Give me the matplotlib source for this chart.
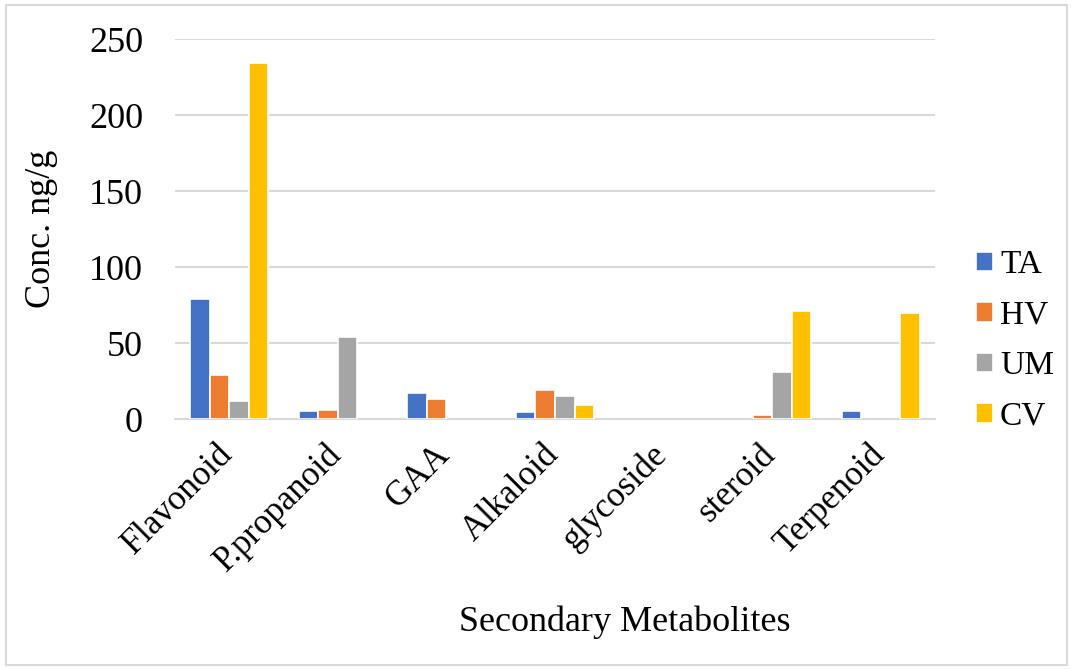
import matplotlib
matplotlib.use("Agg")
import matplotlib.pyplot as plt
import matplotlib.transforms as mtransforms
import numpy as np
from matplotlib.patches import Rectangle

categories = ["Flavonoid", "P.propanoid", "GAA", "Alkaloid", "glycoside", "steroid", "Terpenoid"]
series = ["TA", "HV", "UM", "CV"]
ta = [79, 5, 17, 4.5, 0, 0, 5]
hv = [29, 6, 13, 19, 0, 2.5, 0]
um = [12, 54, 0, 15, 0, 31, 0]
cv = [234, 0, 0, 9, 0, 71, 70]
colors = ["#4472c4", "#ed7d31", "#a5a5a5", "#ffc000"]

plt.rcParams["font.family"] = ["Liberation Serif", "DejaVu Serif"]

W, H = 1071, 669
fig = plt.figure(figsize=(W / 100, H / 100), dpi=100)
ax = fig.add_axes([175 / W, 1 - 419 / H, 760 / W, 380 / H])

x = np.arange(len(categories))
slot = 0.18
for i, (name, vals) in enumerate(zip(series, [ta, hv, um, cv])):
    lw = [1.2 if v else 0 for v in vals]
    ax.bar(x + (i - 1.5) * slot, vals, width=slot, color=colors[i],
           edgecolor="white", linewidth=lw, label=name, zorder=3)

ax.set_xlim(-0.5, len(categories) - 0.5)
ax.set_ylim(0, 250)
ax.set_yticks(range(0, 251, 50))
ax.grid(axis="y", color="#d9d9d9", linewidth=1.5, zorder=0)
for s in ("top", "right", "left"):
    ax.spines[s].set_visible(False)
ax.spines["bottom"].set_color("#d9d9d9")
ax.spines["bottom"].set_linewidth(1.5)
ax.tick_params(length=0, labelsize=26)
ax.tick_params(axis="y", pad=23)
ax.tick_params(axis="x", pad=10, labelsize=25)
ax.set_xticks(x)
ax.set_xticklabels(categories, rotation=45, ha="right", rotation_mode="anchor")
# nudge the slanted category names so they end just right of each group
shift = mtransforms.ScaledTranslation(-0.13, -0.05, fig.dpi_scale_trans)
for lbl in ax.get_xticklabels():
    lbl.set_transform(lbl.get_transform() + shift)

ax.set_ylabel("Conc. ng/g", fontsize=26)
ax.yaxis.set_label_coords((58 - 175) / 760, (419 - 229) / 380)
fig.text(625 / W, 1 - 622 / H, "Secondary Metabolites", fontsize=26,
         ha="center", va="center")

fig.legend(loc="center left", bbox_to_anchor=(976 / W, 1 - 341 / H), frameon=False,
           fontsize=24, handlelength=0.52, handleheight=0.52, handletextpad=0.2,
           labelspacing=0.6, borderpad=0, borderaxespad=0)

fig.patches.append(Rectangle((6 / W, 4 / H), (W - 10) / W, (H - 9) / H,
                             transform=fig.transFigure, fill=False,
                             edgecolor="#d9d9d9", linewidth=1.5))
fig.savefig("out.png", dpi=100)
